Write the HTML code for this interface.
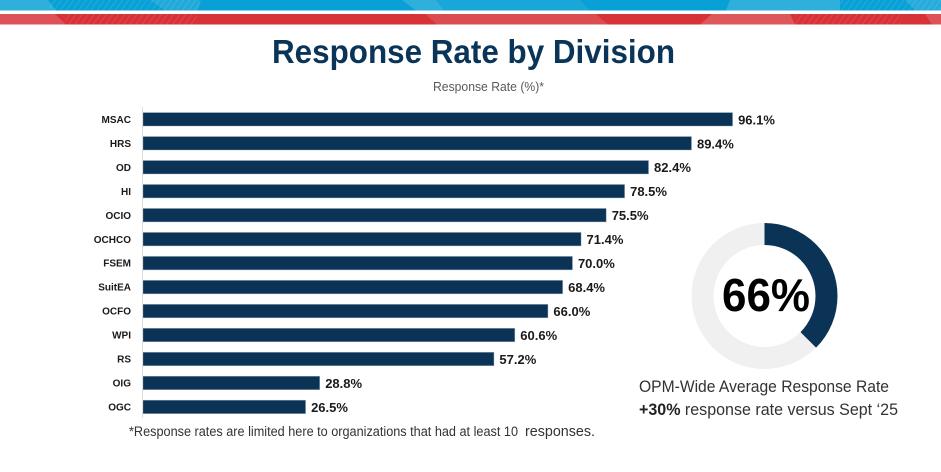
<!DOCTYPE html>
<html lang="en">
<head>
<meta charset="utf-8">
<title>Response Rate by Division</title>
<style>
html,body{margin:0;padding:0;background:#fff;width:941px;height:472px;overflow:hidden}
svg{display:block;font-family:"Liberation Sans",sans-serif}
</style>
</head>
<body>
<svg id="chart" width="941" height="472" viewBox="0 0 941 472" xmlns="http://www.w3.org/2000/svg">
  <defs>
    <pattern id="hatch" width="5" height="5" patternUnits="userSpaceOnUse" patternTransform="rotate(35)">
      <line x1="0" y1="0" x2="0" y2="5" stroke="#fff" stroke-opacity=".16" stroke-width="1.4"/>
    </pattern>
  </defs>
  <g>
    <rect x="0" y="0" width="941" height="10.5" fill="#08a0d6"/>
    <rect x="0" y="14" width="941" height="10.5" fill="#d63238"/>
    <g fill="#fff" fill-opacity=".16">
      <polygon points="0,0 48,0 56,10.5 0,10.5"/>
      <polygon points="150,0 201,0 198,10.5 165,10.5" fill-opacity=".1"/>
      <polygon points="402,0 436,0 444,10.5 416,10.5"/>
      <polygon points="436,0 580,0 590,10.5 444,10.5" fill-opacity=".07"/>
      <polygon points="730,0 840,0 840,10.5 726,10.5" fill-opacity=".16"/>
      <polygon points="905,0 941,0 941,10.5 915,10.5" fill-opacity=".12"/>
    </g>
    <rect x="50" y="0" width="150" height="10.5" fill="url(#hatch)"/>
    <rect x="840" y="0" width="101" height="10.5" fill="url(#hatch)"/>
    <g fill="#fff" fill-opacity=".16">
      <polygon points="0,14 55,14 66,24.5 0,24.5"/>
      <polygon points="425,14 596,14 608,24.5 437,24.5" fill-opacity=".13"/>
      <polygon points="712,14 790,14 795,24.5 700,24.5" fill-opacity=".18"/>
      <polygon points="925,14 941,14 941,24.5 932,24.5" fill-opacity=".16"/>
    </g>
    <rect x="65" y="14" width="132" height="10.5" fill="url(#hatch)"/>
    <rect x="795" y="14" width="105" height="10.5" fill="url(#hatch)"/>
  </g>
  <text x="272" y="63" font-size="33" font-weight="700" fill="#0b3558" textLength="403" lengthAdjust="spacingAndGlyphs">Response Rate by Division</text>
  <text x="433" y="91" font-size="12.5" fill="#595959" textLength="111" lengthAdjust="spacingAndGlyphs">Response Rate (%)*</text>
  <g id="bars"></g>
  <line x1="142.5" y1="107" x2="142.5" y2="418" stroke="#dedede" stroke-width="1"/>
  <text x="129" y="436" font-size="13.5" fill="#333" textLength="389" lengthAdjust="spacingAndGlyphs">*Response rates are limited here to organizations that had at least 10</text>
  <text x="525" y="436" font-size="14.5" fill="#333" textLength="70" lengthAdjust="spacingAndGlyphs">responses.</text>
  <g id="donut"></g>
  <text x="766" y="311" text-anchor="middle" font-size="46" font-weight="700" fill="#000" textLength="88" lengthAdjust="spacingAndGlyphs">66%</text>
  <text x="639" y="392" font-size="16.5" fill="#333" textLength="250" lengthAdjust="spacingAndGlyphs">OPM-Wide Average Response Rate</text>
  <text x="639" y="415" font-size="16.5" fill="#333" textLength="259" lengthAdjust="spacingAndGlyphs"><tspan font-weight="700" fill="#222">+30%</tspan> response rate versus Sept ‘25</text>
</svg>
<script>
const categories = ["MSAC","HRS","OD","HI","OCIO","OCHCO","FSEM","SuitEA","OCFO","WPI","RS","OIG","OGC"];
const responseRates = [96.1,89.4,82.4,78.5,75.5,71.4,70.0,68.4,66.0,60.6,57.2,28.8,26.5];
const donutShare = [37.5];

const NS = "http://www.w3.org/2000/svg";
const plot = {x0:143, pxPerUnit:6.135, y0:119.3, step:23.97, barH:13.4};
const xScale = v => plot.x0 + v * plot.pxPerUnit;
const yScale = i => plot.y0 + i * plot.step;

const barsG = document.getElementById("bars");
categories.forEach((cat, i) => {
  const v = responseRates[i];
  const cy = yScale(i);

  const label = document.createElementNS(NS, "text");
  
  
  label.setAttribute("x", 131);
  label.setAttribute("y", cy + 3.6);
  label.setAttribute("text-anchor", "end");
  label.setAttribute("font-size", "10");
  label.setAttribute("font-weight", "700");
  label.setAttribute("fill", "#1a1a1a");
  label.textContent = cat;
  barsG.appendChild(label);

  const bar = document.createElementNS(NS, "rect");
  
  
  bar.setAttribute("x", plot.x0);
  bar.setAttribute("y", cy - plot.barH / 2);
  bar.setAttribute("width", xScale(v) - plot.x0);
  bar.setAttribute("height", plot.barH);
  bar.setAttribute("fill", "#0a3356");
  bar.setAttribute("stroke", "#8da2b5");
  bar.setAttribute("stroke-opacity", ".55");
  bar.setAttribute("stroke-width", ".7");
  barsG.appendChild(bar);

  const value = document.createElementNS(NS, "text");
  
  
  value.setAttribute("x", xScale(v) + 5.5);
  value.setAttribute("y", cy + 5);
  value.setAttribute("font-size", "13");
  value.setAttribute("font-weight", "700");
  value.setAttribute("fill", "#1a1a1a");
  value.textContent = v.toFixed(1) + "%";
  barsG.appendChild(value);
});

const donut = {cx:764.5, cy:296, r:62, width:22};
const donutG = document.getElementById("donut");

const track = document.createElementNS(NS, "circle");


track.setAttribute("cx", donut.cx);
track.setAttribute("cy", donut.cy);
track.setAttribute("r", donut.r);
track.setAttribute("fill", "none");
track.setAttribute("stroke", "#f0f0f0");
track.setAttribute("stroke-width", donut.width);
donutG.appendChild(track);

const circumference = 2 * Math.PI * donut.r;
const arc = document.createElementNS(NS, "circle");


arc.setAttribute("cx", donut.cx);
arc.setAttribute("cy", donut.cy);
arc.setAttribute("r", donut.r);
arc.setAttribute("fill", "none");
arc.setAttribute("stroke", "#0a3356");
arc.setAttribute("stroke-width", donut.width);
arc.setAttribute("stroke-dasharray", (donutShare[0] / 100 * circumference) + " " + circumference);
arc.setAttribute("transform", "rotate(-90 " + donut.cx + " " + donut.cy + ")");
donutG.appendChild(arc);
</script>
</body>
</html>
